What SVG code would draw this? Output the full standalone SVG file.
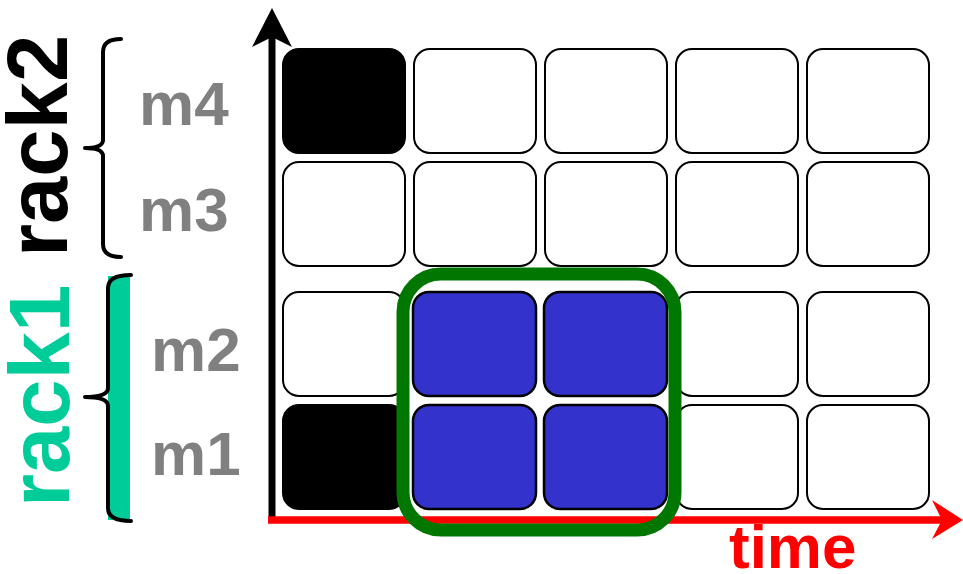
<svg xmlns="http://www.w3.org/2000/svg" width="963" height="574" viewBox="0 0 963 574">
<style>
.cell{fill:#ffffff;stroke:#000;stroke-width:2}
.blk{fill:#000;stroke:#000;stroke-width:2}
.blu{fill:#3333cc;stroke:#000;stroke-width:2.5}
.lbl{font-family:"Liberation Sans",Arial,sans-serif;font-weight:bold;font-size:62px;fill:#808080}
.rack{font-family:"Liberation Sans",Arial,sans-serif;font-weight:bold;font-size:85px}
.brace{fill:none;stroke:#000;stroke-width:4;stroke-linejoin:round;stroke-linecap:round}
</style>
<rect width="963" height="574" fill="#fff"/>
<g id="rack2">
<text class="rack" fill="#000" transform="translate(67,257) rotate(-90)">rack2</text>
<path class="brace" d="M121,39 Q103,39 103,52 L103,140 Q103,148 85,148 Q103,148 103,156 L103,244 Q103,257 121,257"/>
</g>
<g id="rack1">
<rect x="108" y="276" width="22" height="244" fill="#00cc99"/>
<text class="rack" fill="#00cc99" transform="translate(69,507) rotate(-90)">rack1</text>
<path class="brace" d="M131,275 Q108,275 108,288 L108,388 Q108,397 85,397 Q108,397 108,406 L108,508 Q108,521 131,521"/>
</g>
<g id="labels">
<text class="lbl" x="139" y="125">m4</text>
<text class="lbl" x="139" y="231">m3</text>
<text class="lbl" x="151" y="371">m2</text>
<text class="lbl" x="151" y="475">m1</text>
</g>
<g id="row-m4">
<rect class="blk" x="283" y="49" width="122" height="104" rx="16"/>
<rect class="cell" x="414" y="49" width="122" height="104" rx="16"/>
<rect class="cell" x="545" y="49" width="122" height="104" rx="16"/>
<rect class="cell" x="676" y="49" width="122" height="104" rx="16"/>
<rect class="cell" x="807" y="49" width="122" height="104" rx="16"/>
</g>
<g id="row-m3">
<rect class="cell" x="283" y="162" width="122" height="104" rx="16"/>
<rect class="cell" x="414" y="162" width="122" height="104" rx="16"/>
<rect class="cell" x="545" y="162" width="122" height="104" rx="16"/>
<rect class="cell" x="676" y="162" width="122" height="104" rx="16"/>
<rect class="cell" x="807" y="162" width="122" height="104" rx="16"/>
</g>
<g id="row-m2">
<rect class="cell" x="283" y="292" width="122" height="104" rx="16"/>
<rect class="blu" x="413" y="292" width="123" height="104" rx="16"/>
<rect class="blu" x="544" y="292" width="123" height="104" rx="16"/>
<rect class="cell" x="676" y="292" width="122" height="104" rx="16"/>
<rect class="cell" x="807" y="292" width="122" height="104" rx="16"/>
</g>
<g id="row-m1">
<rect class="blk" x="283" y="405" width="122" height="104" rx="16"/>
<rect class="blu" x="413" y="405" width="123" height="104" rx="16"/>
<rect class="blu" x="544" y="405" width="123" height="104" rx="16"/>
<rect class="cell" x="676" y="405" width="122" height="104" rx="16"/>
<rect class="cell" x="807" y="405" width="122" height="104" rx="16"/>
</g>
<g id="axes">
<line x1="272" y1="30" x2="272" y2="520" stroke="#000" stroke-width="7"/>
<path d="M272,8 L292,47 L272,37 L252,47 Z" fill="#000"/>
<line x1="268" y1="520" x2="945" y2="520" stroke="#f00" stroke-width="7.5"/>
<path d="M963,520 L932,539 L942,520 L932,500 Z" fill="#f00"/>
<text x="729" y="568" font-family="Liberation Sans,Arial,sans-serif" font-weight="bold" font-size="62" fill="#f00">time</text>
</g>
<g id="selection">
<rect x="403" y="274" width="272" height="256" rx="38" fill="none" stroke="#007700" stroke-width="13"/>
</g>
</svg>
